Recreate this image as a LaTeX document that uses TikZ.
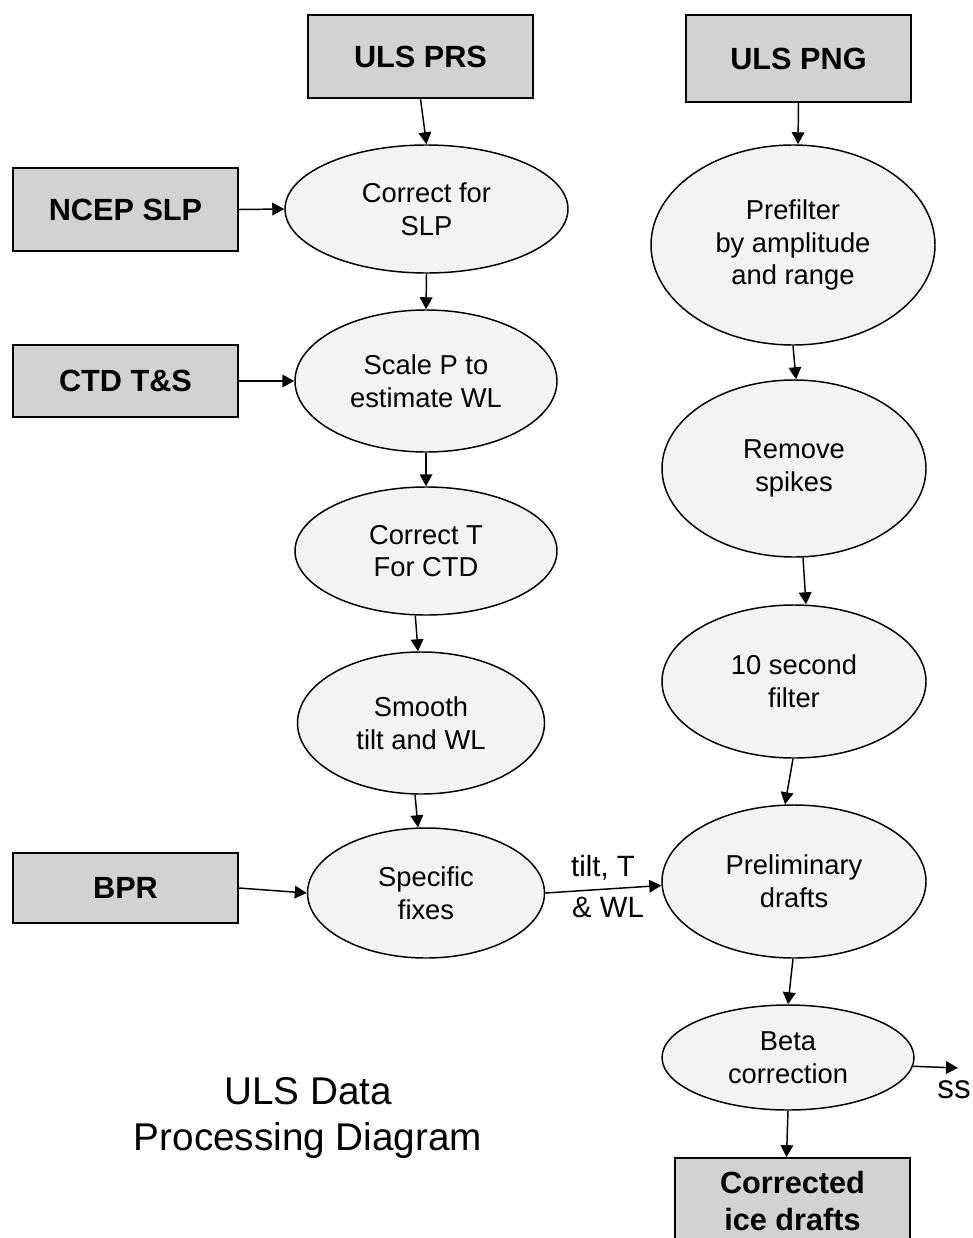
\documentclass[tikz,border=0pt]{standalone}
\usepackage{fontspec}
\setmainfont{Liberation Sans}
\usetikzlibrary{shapes.geometric,arrows.meta}
\definecolor{boxfill}{RGB}{210,210,210}
\definecolor{ellfill}{RGB}{243,243,243}
\tikzset{
  ell/.style 2 args={ellipse, draw, line width=1.1pt, fill=ellfill, inner sep=0pt,
    minimum width=#1*0.75pt, minimum height=#2*0.75pt, align=center,
    font=\fontsize{20.5}{24.5}\selectfont},
  srcbox/.style 2 args={rectangle, draw, line width=1.3pt, fill=boxfill, inner sep=0pt,
    minimum width=#1*0.75pt, minimum height=#2*0.75pt, align=center,
    font=\fontsize{23}{27.75}\selectfont\bfseries},
  flow/.style={line width=1.1pt, -{Triangle[length=9pt,width=9.5pt]}},
  lbl/.style={inner sep=0pt, align=center, font=\fontsize{22}{29}\selectfont}
}
\begin{document}
\begin{tikzpicture}[x=0.75pt,y=-0.75pt]
\clip (0,0) rectangle (972,1238);
\fill[white] (0,0) rectangle (972,1238);
% source boxes
\node[srcbox={225}{83}] (prs) at (420.5,56.5) {ULS PRS};
\node[srcbox={225}{87}] (png) at (798.5,58.5) {ULS PNG};
\node[srcbox={225}{83}] (ncep) at (125.5,209.5) {NCEP SLP};
\node[srcbox={225}{72}] (ctd) at (125.5,381) {CTD T\&S};
\node[srcbox={225}{70}] (bpr) at (125.5,888) {BPR};
\node[srcbox={235}{87}] (corr) at (792.5,1201.5) {Corrected\\ice drafts};
% left column
\node[ell={283}{128}] (slp) at (426.5,209) {Correct for\\SLP};
\node[ell={262}{142}] (scale) at (426,381) {Scale P to\\estimate WL};
\node[ell={262}{128}] (corrT) at (426,551) {Correct T\\For CTD};
\node[ell={247}{142}] (smooth) at (421,723) {Smooth\\tilt and WL};
\node[ell={237}{130}] (spec) at (426,893) {Specific\\fixes};
% right column
\node[ell={284}{200}] (pre) at (793,245) {Prefilter\\by amplitude\\and range};
\node[ell={264}{177}] (rem) at (794,468.5) {Remove\\spikes};
\node[ell={264}{153}] (ten) at (794,681.5) {10 second\\filter};
\node[ell={264}{153}] (prelim) at (794,881.5) {Preliminary\\drafts};
\node[ell={252}{105}] (beta) at (788,1057.5) {Beta\\correction};
% title
\node[lbl, font=\fontsize{29}{34.5}\selectfont] (title) at (308,1118) {ULS Data\\Processing Diagram};
% connectors
\draw[flow] (prs.south) -- (slp.north);
\draw[flow] (ncep.east) -- (slp.west);
\draw[flow] (slp.south) -- (scale.north);
\draw[flow] (ctd.east) -- (scale.west);
\draw[flow] (scale.south) -- (corrT.north);
\draw[flow] ([xshift=-8pt]corrT.south) -- ([xshift=-2.25pt]smooth.north);
\draw[flow] ([xshift=-4.5pt]smooth.south) -- ([xshift=-6pt]spec.north);
\draw[flow] (bpr.east) -- (spec.west);
\draw[flow] (spec.east) -- ([yshift=-3pt]prelim.west);
\node[lbl] (tiltT) at (603,868) {tilt, T};
\node[lbl] (andWL) at (608,907) {\& WL};
\draw[flow] (png.south) -- ([xshift=3.75pt]pre.north);
\draw[flow] (pre.south) -- ([xshift=1.5pt]rem.north);
\draw[flow] ([xshift=6.75pt]rem.south) -- ([xshift=9pt]ten.north);
\draw[flow] ([xshift=-0.75pt]ten.south) -- ([xshift=-6.75pt]prelim.north);
\draw[flow] ([xshift=-0.75pt]prelim.south) -- (beta.north);
\coordinate (ssend) at (958,1068);
\draw[flow] (beta.-4) -- (ssend);
\node[lbl, font=\fontsize{25}{29}\selectfont] (ss) at (954,1090) {ss};
\draw[flow] (beta.south) -- ([xshift=-4.5pt]corr.north);
\end{tikzpicture}
\end{document}
